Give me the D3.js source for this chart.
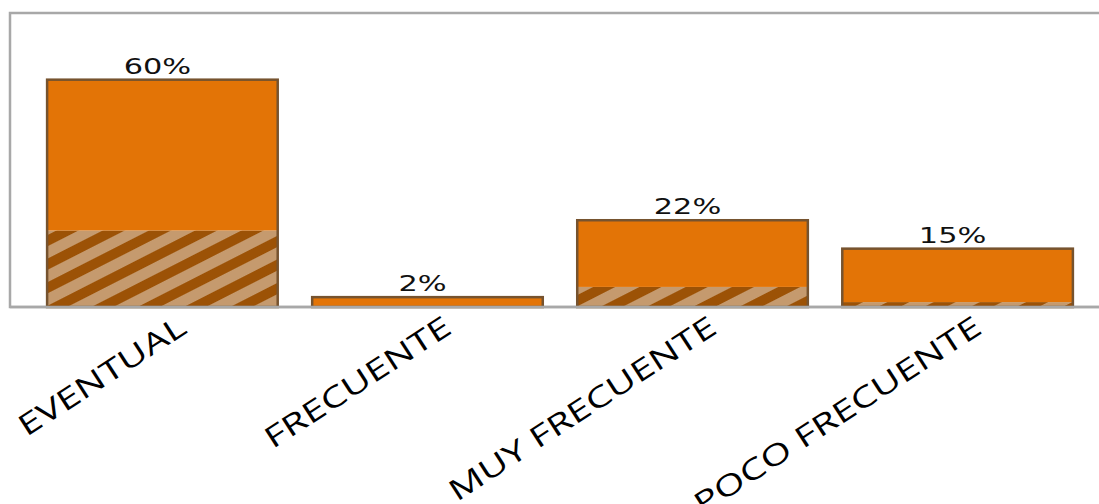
<!DOCTYPE html>
<html>
<head>
<meta charset="utf-8">
<script src="https://cdn.jsdelivr.net/npm/d3@7"></script>
<style>
  html, body { margin: 0; padding: 0; background: #fff; }
  svg { display: block; }
</style>
</head>
<body>
<svg id="chart" width="1099" height="504"></svg>
<script>
// ---- Data ----
const categories = ["EVENTUAL", "FRECUENTE", "MUY FRECUENTE", "POCO FRECUENTE"];
const hatchedValues = [20.2, 0, 5.3, 1.3];     // lower, hatched segment
const solidValues   = [39.8, 2.6, 17.6, 14.1]; // upper, solid orange segment
const totalLabels   = ["60%", "2%", "22%", "15%"];
const yMax = 77.6;

// ---- Layout ----
const plot = { left: 10, top: 13, right: 1110, bottom: 307 };

const svg = d3.select("#chart");

const rows = categories.map((c, i) => ({
  cat: c, hatched: hatchedValues[i], solid: solidValues[i], label: totalLabels[i]
}));

const x = d3.scaleBand()
  .domain(categories)
  .range([plot.left, plot.right])
  .paddingInner(0.13)
  .paddingOuter(0.14);

const y = d3.scaleLinear()
  .domain([0, yMax])
  .range([plot.bottom, plot.top]);

// hatch pattern
const defs = svg.append("defs");
const pat = defs.append("pattern")
  .attr("id", "hatch")
  .attr("patternUnits", "userSpaceOnUse")
  .attr("width", 21).attr("height", 21)
  .attr("patternTransform", "rotate(-27)");
pat.append("rect").attr("width", 21).attr("height", 21).attr("fill", "#C59A6E");
pat.append("rect").attr("y", 0).attr("width", 21).attr("height", 10).attr("fill", "#9C5206");

// frame
svg.append("rect")
  .attr("x", plot.left).attr("y", plot.top)
  .attr("width", plot.right - plot.left).attr("height", plot.bottom - plot.top)
  .attr("fill", "none").attr("stroke", "#A8A8A8").attr("stroke-width", 2.5);

// stacked segments
const keys = ["hatched", "solid"];
const fills = { hatched: "url(#hatch)", solid: "#E37406" };
const stacked = d3.stack().keys(keys)(rows);

svg.append("g").selectAll("g")
  .data(stacked)
  .join("g")
  .attr("fill", d => fills[d.key])
  .selectAll("rect")
  .data(d => d.map(v => ({ v, cat: v.data.cat })))
  .join("rect")
  .attr("x", d => x(d.cat))
  .attr("width", x.bandwidth())
  .attr("y", d => y(d.v[1]))
  .attr("height", d => Math.max(0, y(d.v[0]) - y(d.v[1])));

// outline of each bar
svg.append("g").selectAll("rect")
  .data(rows)
  .join("rect")
  .attr("x", d => x(d.cat))
  .attr("width", x.bandwidth())
  .attr("y", d => y(d.hatched + d.solid))
  .attr("height", d => y(0) - y(d.hatched + d.solid))
  .attr("fill", "none")
  .attr("stroke", "#76532F")
  .attr("stroke-width", 2.5);

// value labels
svg.append("g").selectAll("text")
  .data(rows)
  .join("text")
  .attr("transform", d => `translate(${x(d.cat) + x.bandwidth() / 2 - 5},${y(d.hatched + d.solid) - 6}) scale(1.38,1)`)
  .attr("text-anchor", "middle")
  .attr("font-family", "DejaVu Sans, Verdana, sans-serif")
  .attr("font-size", 22)
  .attr("fill", "#111")
  .text(d => d.label);

// x axis baseline
const xAxis = d3.axisBottom(x).tickSize(0).tickPadding(0);
const gx = svg.append("g")
  .attr("transform", `translate(0,${plot.bottom})`)
  .call(xAxis);
gx.select(".domain")
  .attr("d", `M${plot.left},0H${plot.right}`)
  .attr("stroke", "#A8A8A8").attr("stroke-width", 2.5);
gx.selectAll(".tick text")
  .attr("text-anchor", "end")
  .attr("font-family", "Open Sans, Noto Sans, sans-serif")
  .attr("font-size", 29)
  .attr("fill", "#000")
  .attr("y", 0).attr("dy", 0)
  .attr("transform", `translate(26,25) rotate(-33) scale(1.36,1)`);
</script>
</body>
</html>
